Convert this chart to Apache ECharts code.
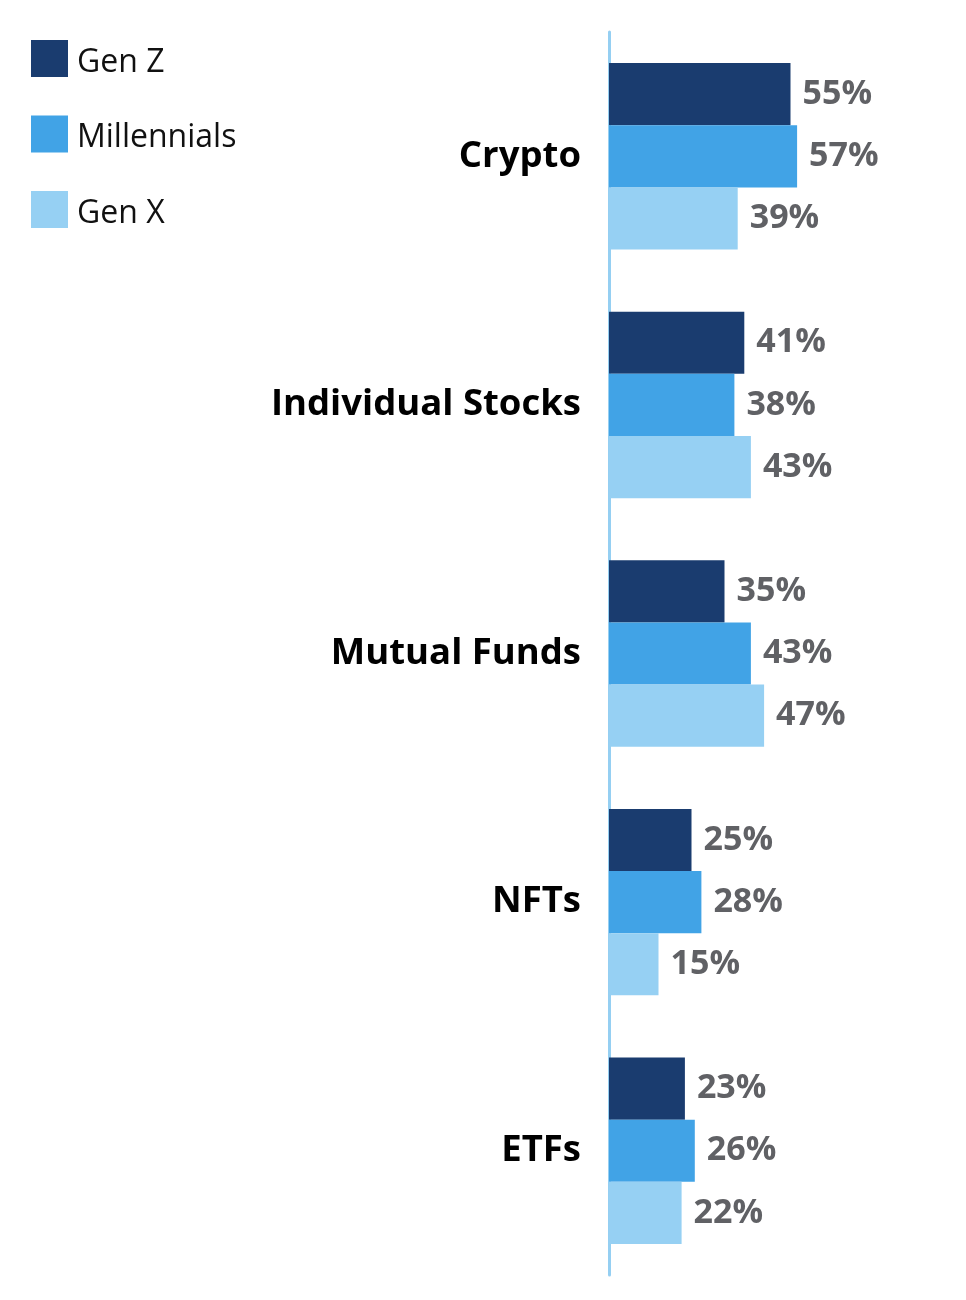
<!DOCTYPE html>
<html>
<head>
<meta charset="utf-8">
<script src="https://cdn.jsdelivr.net/npm/echarts@6/dist/echarts.min.js"></script>
<style>html,body{margin:0;padding:0;background:#fff;}#c{width:966px;height:1300px;}</style>
</head>
<body>
<div id="c"></div>
<script>
const categories = ['Crypto', 'Individual Stocks', 'Mutual Funds', 'NFTs', 'ETFs'];
const seriesNames = ['Gen Z', 'Millennials', 'Gen X'];
const genZ = [55, 41, 35, 25, 23];
const millennials = [57, 38, 43, 28, 26];
const genX = [39, 43, 47, 15, 22];
const colors = ['#1a3c6f', '#41a3e6', '#96d0f3'];

const chart = echarts.init(document.getElementById('c'), null, {renderer: 'canvas'});
const font = '"Open Sans", "Noto Sans", sans-serif';
const mk = (name, data, color) => ({
  name, type: 'bar', data,
  barGap: '0%', barCategoryGap: '25%',
  itemStyle: {color},
  label: {
    show: true, position: 'right', distance: 12,
    formatter: p => p.value + '%',
    color: '#606165', fontSize: 34, fontWeight: 'bold', fontFamily: font
  }
});
chart.setOption({
  animation: false,
  color: colors,
  legend: {
    orient: 'vertical', left: 31, top: 40, padding: 0,
    itemWidth: 37, itemHeight: 37, itemGap: 37,
    icon: 'rect',
    formatter: n => '{a|' + n + '}',
    textStyle: {
      fontSize: 32, color: '#111', fontFamily: font,
      rich: {a: {fontSize: 32, color: '#111', fontFamily: font, padding: [8, 0, 0, 4]}}
    },
    data: seriesNames
  },
  grid: {left: 609, right: 27, top: 32, bottom: 25, containLabel: false},
  xAxis: {type: 'value', min: 0, max: 100, show: false},
  yAxis: {
    type: 'category', data: categories, inverse: true,
    axisLine: {show: true, lineStyle: {color: '#95cff2', width: 3}},
    axisTick: {show: false},
    axisLabel: {fontSize: 36.5, fontWeight: 'bold', color: '#000', fontFamily: font, margin: 28}
  },
  series: [mk(seriesNames[0], genZ, colors[0]), mk(seriesNames[1], millennials, colors[1]), mk(seriesNames[2], genX, colors[2])]
});
</script>
</body>
</html>
